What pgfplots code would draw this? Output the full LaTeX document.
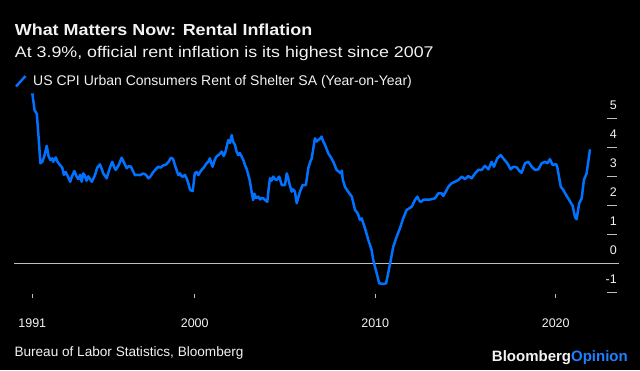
\documentclass[border=0pt]{standalone}
\usepackage{fontspec}
\setmainfont{Liberation Sans}
\newfontfamily\titlefont[FakeStretch=1.12]{Liberation Sans}
\newfontfamily\subfont[FakeStretch=1.15]{Liberation Sans}
\usepackage{pgfplots}
\pgfplotsset{compat=1.18}
\definecolor{lineblue}{RGB}{0,114,255}
\definecolor{opblue}{RGB}{30,128,255}
\definecolor{tickgray}{RGB}{190,190,190}
\definecolor{txt}{RGB}{242,242,242}
\begin{document}
\begin{tikzpicture}[x=1pt,y=1pt]
\fill[black] (0,0) rectangle (640,370);
\path[use as bounding box] (0,0) rectangle (640,370);
\node[anchor=base west, inner sep=0pt, text=txt, font=\titlefont\bfseries\fontsize{16}{18}\selectfont] at (14.7,334.3) {What Matters Now: Rental Inflation};
\node[anchor=base west, inner sep=0pt, text=txt, font=\subfont\fontsize{15.5}{18}\selectfont] at (14.7,312.3) {At 3.9\%, official rent inflation is its highest since 2007};
\draw[lineblue, line width=2.4pt] (16,283.5) -- (25.5,294);
\node[anchor=base west, inner sep=0pt, text=txt, font=\fontsize{14}{16}\selectfont] at (33,284) {US CPI Urban Consumers Rent of Shelter SA (Year-on-Year)};
\node[anchor=base west, inner sep=0pt, text=txt, font=\fontsize{13.6}{16}\selectfont] at (14.3,14) {Bureau of Labor Statistics, Bloomberg};
\node[anchor=base east, inner sep=0pt, font=\bfseries\fontsize{15}{17}\selectfont] at (628,9) {\textcolor{txt}{Bloomberg}\textcolor{opblue}{Opinion}};
% zero line and right-hand tick dashes
\draw[tickgray, line width=0.9pt] (14,106.7) -- (619,106.7);
\foreach \yy in {77.7,135.7,164.7,193.7,222.7,251.7} {
  \draw[tickgray, line width=1pt] (607,\yy) -- (617,\yy);
}
\begin{axis}[
  at={(14pt,76.25pt)}, anchor=south west, scale only axis,
  width=593pt, height=210.25pt,
  xmin=1989.986, xmax=2022.842, ymin=-1.05, ymax=6.2,
  axis x line*=bottom, axis y line*=right, axis line style={draw=none},
  tick align=outside, major tick length=10pt,
  xtick={1991,2000,2010,2020}, xticklabels={1991,2000,2010,2020},
  xtick style={draw=none},
  xticklabel style={anchor=base, inner sep=0pt, yshift=-24pt},
  ytick={-1,0,1,2,3,4,5}, yticklabels={-1,0,1,2,3,4,5},
  ytick style={draw=none},
  yticklabel style={anchor=base east, inner sep=0pt, yshift=9pt},
  ticklabel style={font=\fontsize{12.5}{14}\selectfont, text=txt},
  clip=false,
]
\draw[tickgray, line width=1pt] (axis cs:1991,-1.05) -- ++(0pt,-4.5pt);
\draw[tickgray, line width=1pt] (axis cs:2000,-1.05) -- ++(0pt,-4.5pt);
\draw[tickgray, line width=1pt] (axis cs:2010,-1.05) -- ++(0pt,-4.5pt);
\draw[tickgray, line width=1pt] (axis cs:2020,-1.05) -- ++(0pt,-4.5pt);
\addplot[lineblue, line width=2.5pt, line join=round, mark=none] coordinates {
(1991.00,5.86) (1991.08,5.50) (1991.12,5.29) (1991.25,5.15) (1991.33,4.50) (1991.45,3.45)
(1991.55,3.50) (1991.66,3.68) (1991.80,4.05) (1991.90,3.70) (1992.00,3.56) (1992.10,3.62)
(1992.16,3.50) (1992.30,3.65) (1992.40,3.50) (1992.53,3.39) (1992.66,3.30) (1992.75,3.05)
(1992.85,3.15) (1993.00,2.95) (1993.10,2.81) (1993.20,3.00) (1993.33,3.18) (1993.45,3.00)
(1993.55,2.90) (1993.65,3.05) (1993.74,2.81) (1993.82,3.10) (1993.90,3.04) (1994.00,2.85)
(1994.10,3.00) (1994.20,2.90) (1994.30,2.81) (1994.47,3.04) (1994.60,3.30) (1994.75,3.41)
(1994.85,3.25) (1994.93,3.10) (1995.12,2.93) (1995.30,3.30) (1995.43,3.50) (1995.55,3.30)
(1995.62,3.22) (1995.80,3.40) (1995.95,3.64) (1996.10,3.45) (1996.23,3.28) (1996.35,3.35)
(1996.47,3.33) (1996.60,3.15) (1996.69,3.04) (1996.85,3.05) (1996.97,3.04) (1997.15,3.10)
(1997.30,3.05) (1997.43,2.93) (1997.55,3.00) (1997.70,3.14) (1997.85,3.25) (1997.98,3.33)
(1998.10,3.30) (1998.26,3.38) (1998.40,3.40) (1998.55,3.50) (1998.68,3.64) (1998.80,3.60)
(1998.87,3.45) (1999.00,3.20) (1999.09,3.04) (1999.18,3.10) (1999.27,3.00) (1999.37,2.99)
(1999.45,3.05) (1999.55,2.93) (1999.65,2.75) (1999.74,2.53) (1999.89,2.49) (2000.00,3.10)
(2000.10,3.15) (2000.20,3.04) (2000.30,3.15) (2000.38,3.22) (2000.50,3.30) (2000.66,3.45)
(2000.75,3.50) (2000.84,3.62) (2000.92,3.45) (2000.99,3.33) (2001.10,3.55) (2001.20,3.68)
(2001.35,3.75) (2001.50,3.85) (2001.60,3.70) (2001.68,3.79) (2001.78,4.05) (2001.86,4.25)
(2001.95,4.15) (2002.05,4.42) (2002.12,4.20) (2002.23,4.08) (2002.32,3.85) (2002.41,3.73)
(2002.50,3.80) (2002.60,3.68) (2002.70,3.55) (2002.78,3.39) (2002.88,3.25) (2002.97,3.04)
(2003.05,2.85) (2003.15,2.47) (2003.24,2.18) (2003.30,2.40) (2003.40,2.25) (2003.52,2.30)
(2003.62,2.20) (2003.70,2.25) (2003.80,2.24) (2003.90,2.18) (2004.02,2.12) (2004.10,2.60)
(2004.17,2.93) (2004.25,2.85) (2004.35,2.99) (2004.45,2.90) (2004.54,2.87) (2004.62,2.95)
(2004.68,2.99) (2004.82,2.70) (2005.00,2.70) (2005.10,3.10) (2005.17,2.95) (2005.24,2.76)
(2005.37,2.47) (2005.45,2.55) (2005.55,2.47) (2005.65,2.07) (2005.75,2.30) (2005.83,2.47)
(2005.98,2.70) (2006.16,2.70) (2006.29,3.28) (2006.40,3.50) (2006.48,3.62) (2006.58,4.00)
(2006.66,4.31) (2006.75,4.20) (2006.84,4.25) (2006.95,4.30) (2007.03,4.37) (2007.12,4.20)
(2007.22,4.08) (2007.30,3.95) (2007.40,3.79) (2007.55,3.65) (2007.68,3.50) (2007.86,3.22)
(2008.00,3.15) (2008.09,3.10) (2008.15,3.20) (2008.20,2.90) (2008.32,2.64) (2008.50,2.47)
(2008.70,2.30) (2008.80,2.05) (2008.88,1.84) (2009.00,1.75) (2009.06,1.67) (2009.15,1.50)
(2009.25,1.55) (2009.43,1.21) (2009.62,0.80) (2009.80,0.46) (2009.89,0.11) (2010.08,-0.34)
(2010.22,-0.69) (2010.45,-0.71) (2010.60,-0.69) (2010.72,-0.34) (2010.86,0.11) (2011.00,0.57)
(2011.19,0.92) (2011.37,1.21) (2011.55,1.55) (2011.74,1.84) (2012.02,1.95) (2012.20,2.18)
(2012.33,2.30) (2012.45,2.15) (2012.52,2.12) (2012.70,2.20) (2013.03,2.20) (2013.31,2.24)
(2013.49,2.41) (2013.68,2.41) (2013.77,2.32) (2013.96,2.53) (2014.05,2.64) (2014.23,2.76)
(2014.42,2.81) (2014.60,2.87) (2014.79,2.99) (2014.97,2.90) (2015.16,3.01) (2015.34,2.93)
(2015.53,3.10) (2015.71,3.22) (2015.90,3.22) (2016.08,3.36) (2016.27,3.24) (2016.45,3.50)
(2016.58,3.33) (2016.76,3.62) (2016.95,3.73) (2017.13,3.59) (2017.32,3.45) (2017.50,3.24)
(2017.65,3.33) (2017.84,3.31) (2017.98,3.19) (2018.11,3.12) (2018.30,3.45) (2018.48,3.50)
(2018.67,3.33) (2018.85,3.22) (2019.04,3.24) (2019.22,3.45) (2019.41,3.50) (2019.54,3.45)
(2019.68,3.59) (2019.83,3.39) (2020.02,3.42) (2020.09,3.31) (2020.28,2.64) (2020.42,2.53)
(2020.57,2.36) (2020.75,2.18) (2020.94,1.98) (2021.07,1.59) (2021.16,1.52) (2021.30,2.07)
(2021.44,2.24) (2021.56,2.87) (2021.71,3.10) (2021.90,3.93)
};
\end{axis}
\end{tikzpicture}
\end{document}
